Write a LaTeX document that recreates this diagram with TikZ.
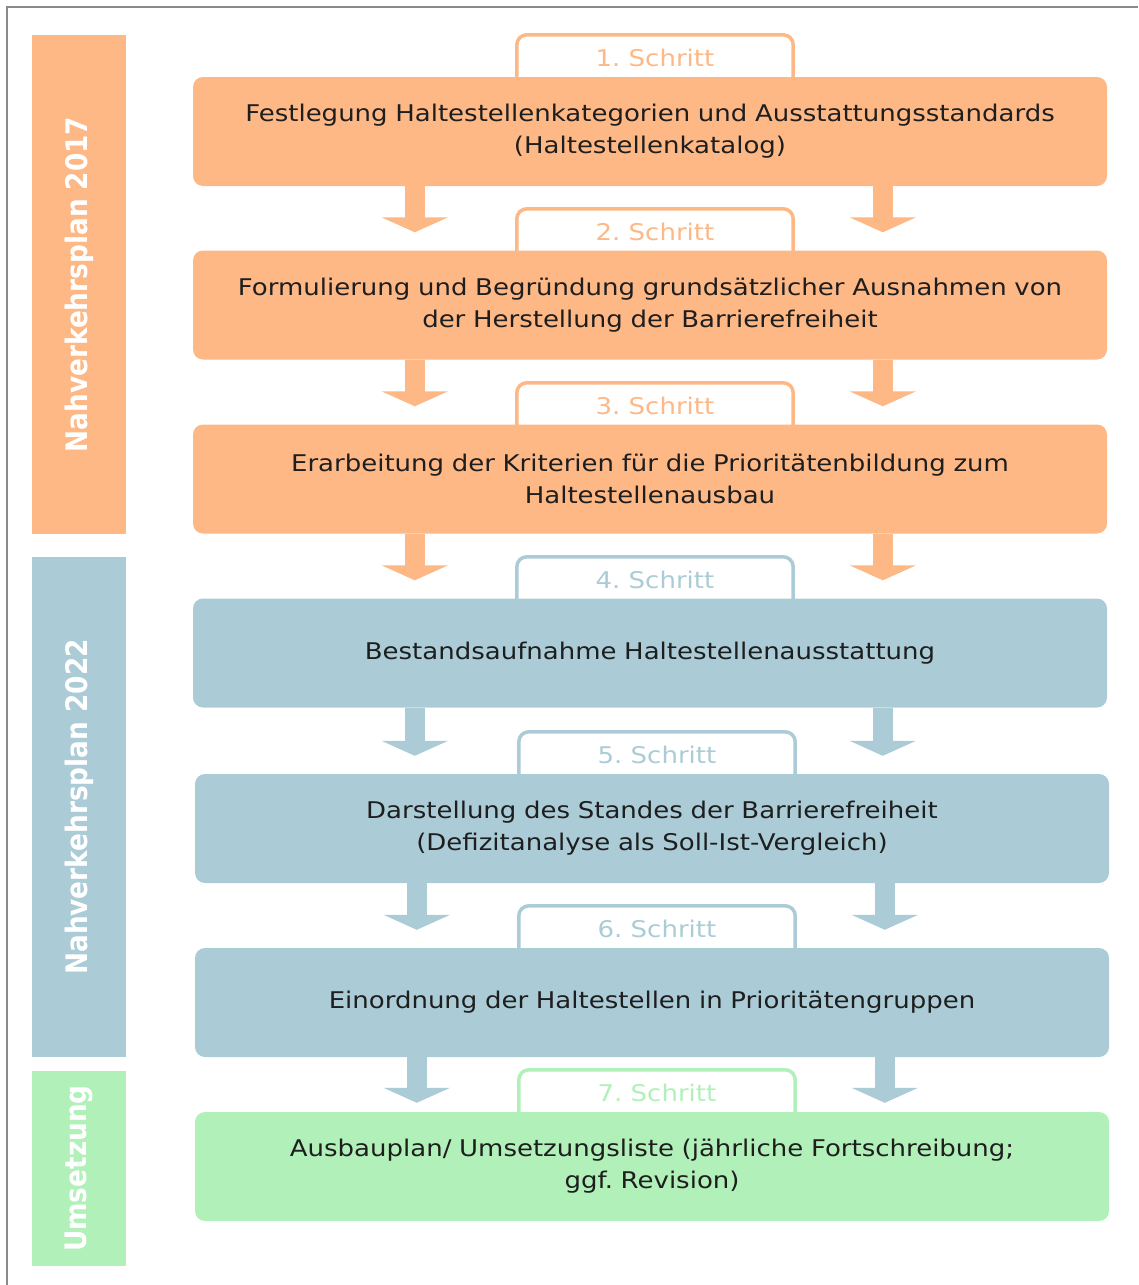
\documentclass[tikz,border=0pt]{standalone}
\usepackage{fontspec}
\setmainfont{DejaVu Sans}[FakeStretch=1.13]
\newfontfamily\sidefont{DejaVu Sans}[FakeStretch=0.89]
\usetikzlibrary{arrows.meta,calc}
\definecolor{cor}{HTML}{FDB886}
\definecolor{cbl}{HTML}{ABCCD7}
\definecolor{cgr}{HTML}{B2F0B9}
\definecolor{ctx}{HTML}{1E1E1E}
\definecolor{cfr}{HTML}{8A8A8A}
\begin{document}
\frenchspacing
\begin{tikzpicture}[x=1pt,y=-1pt,
  box/.style={rectangle,rounded corners=10pt,minimum width=914pt,minimum height=109pt,
    text width=900pt,align=center,text=ctx,font=\fontsize{23}{32}\selectfont,inner sep=0pt},
  side/.style={rectangle,minimum width=94pt,inner sep=0pt},
  sidetxt/.style={rotate=90,text=white,font=\sidefont\bfseries\fontsize{29.6}{30}\selectfont},
  tabtxt/.style={minimum width=276pt,minimum height=45pt,inner sep=0pt,
    font=\fontsize{23}{28}\selectfont},
  tabline/.style={line width=3.5pt,rounded corners=10pt},
  barrow/.style={line width=20pt,-{Triangle[width=66pt,length=15pt]}}
]
\useasboundingbox (0,0) rectangle (1138,1285);
\fill[white] (0,0) rectangle (1138,1285);
\draw[cfr,line width=2pt] (7,1285) -- (7,7) -- (1138,7);

% side bars
\node[side,fill=cor,minimum height=499pt] (s1) at (79,284.5) {};
\node[sidetxt] (s1t) at (s1.center) {Nahverkehrsplan 2017};
\node[side,fill=cbl,minimum height=500pt] (s2) at (79,807) {};
\node[sidetxt] (s2t) at (s2.center) {Nahverkehrsplan 2022};
\node[side,fill=cgr,minimum height=195pt] (s3) at (79,1168.5) {};
\node[sidetxt] (s3t) at (s3.center) {Umsetzung};

% tabs
\foreach \n/\x/\y/\c in {1/655/57.5/cor,2/655/231.5/cor,3/655/405.5/cor,4/655/579.5/cbl,5/657/754.5/cbl,6/657/928.5/cbl,7/657/1092.5/cgr}{
  \node[tabtxt,text=\c] (t\n) at (\x,\y) {\n. Schritt};
  \draw[tabline,draw=\c] ([yshift=-14pt]t\n.south west) |- (t\n.north) -| ([yshift=-14pt]t\n.south east);
}

% boxes
\node[box,fill=cor] (b1) at (650,131.5) {Festlegung Haltestellenkategorien und Ausstattungsstandards\\(Haltestellenkatalog)};
\node[box,fill=cor] (b2) at (650,305) {Formulierung und Begründung grundsätzlicher Ausnahmen von\\der Herstellung der Barrierefreiheit};
\node[box,fill=cor] (b3) at (650,479) {Erarbeitung der Kriterien für die Prioritätenbildung zum\\Haltestellenausbau};
\node[box,fill=cbl] (b4) at (650,653) {Bestandsaufnahme Haltestellenausstattung};
\node[box,fill=cbl] (b5) at (652,828.5) {Darstellung des Standes der Barrierefreiheit\\(Defizitanalyse als Soll-Ist-Vergleich)};
\node[box,fill=cbl] (b6) at (652,1002.5) {Einordnung der Haltestellen in Prioritätengruppen};
\node[box,fill=cgr] (b7) at (652,1166.5) {Ausbauplan/ Umsetzungsliste (jährliche Fortschreibung;\\ggf. Revision)};

% arrows
\foreach \a/\b/\c/\g in {b1/b2/cor/18,b2/b3/cor/18,b3/b4/cor/18,b4/b5/cbl/18,b5/b6/cbl/18,b6/b7/cbl/9}{
  \coordinate (l\a) at ([xshift=222pt]\a.south west);
  \coordinate (r\a) at ([xshift=690pt]\a.south west);
  \draw[barrow,draw=\c] (l\a) -- ([yshift=\g pt]l\a |- \b.north);
  \draw[barrow,draw=\c] (r\a) -- ([yshift=\g pt]r\a |- \b.north);
}
\end{tikzpicture}
\end{document}
